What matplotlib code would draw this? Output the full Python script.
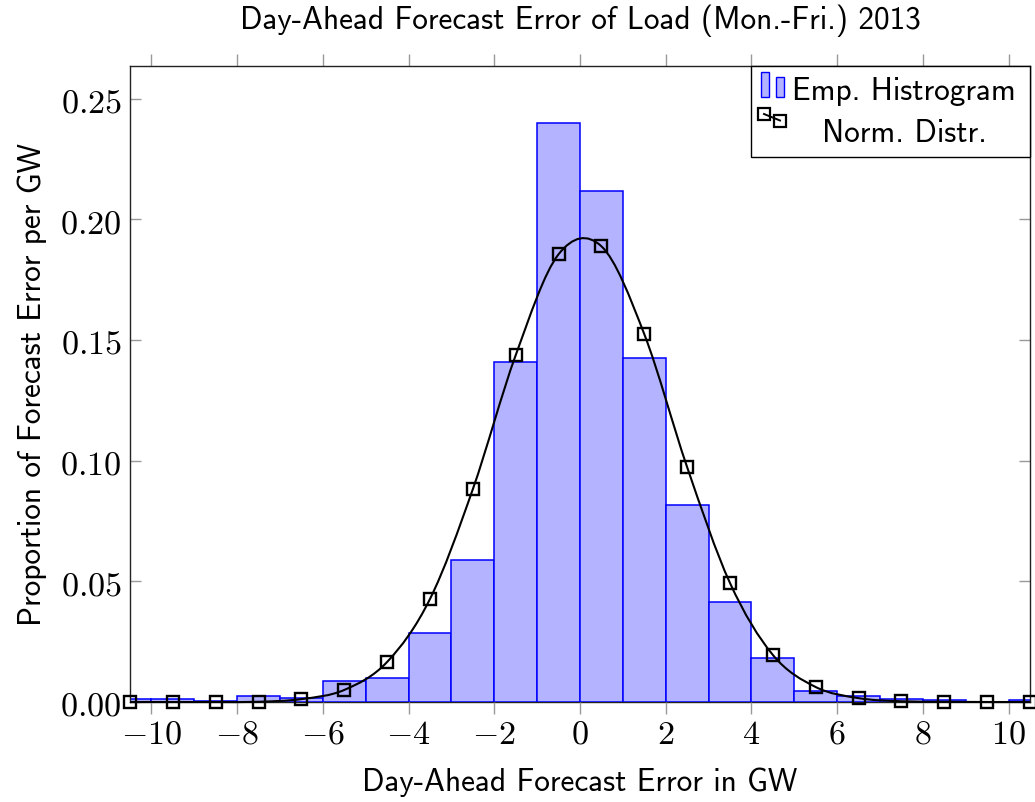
import matplotlib
matplotlib.use("Agg")
import matplotlib.pyplot as plt
from matplotlib.path import Path
from matplotlib.patches import PathPatch, Rectangle
from matplotlib.lines import Line2D
from matplotlib.ticker import FuncFormatter, FixedLocator

# ---------------- data ----------------
bin_left = [-11, -10, -9, -8, -7, -6, -5, -4, -3, -2, -1,
            0, 1, 2, 3, 4, 5, 6, 7, 8, 9, 10]
hist_values = [0.0011, 0.0011, 0.0005, 0.0023, 0.0018, 0.0087, 0.0099, 0.0286,
               0.0588, 0.1410, 0.2398, 0.2116, 0.1424, 0.0816, 0.0414, 0.0182,
               0.0047, 0.0025, 0.0014, 0.0007, 0.0002, 0.0010]
norm_x = [-10.5, -9.5, -8.5, -7.5, -6.5, -5.5, -4.5, -3.5, -2.5, -1.5, -0.5,
          0.5, 1.5, 2.5, 3.5, 4.5, 5.5, 6.5, 7.5, 8.5, 9.5, 10.5]
norm_y = [0.0000, 0.0000, 0.0000, 0.0001, 0.0012, 0.0050, 0.0166, 0.0427,
          0.0882, 0.1437, 0.1855, 0.1888, 0.1524, 0.0973, 0.0493, 0.0195,
          0.0062, 0.0016, 0.0003, 0.0001, 0.0000, 0.0000]
x_ticks = [-10, -8, -6, -4, -2, 0, 2, 4, 6, 8, 10]
y_ticks = [0.00, 0.05, 0.10, 0.15, 0.20, 0.25]

title = "Day-Ahead Forecast Error of Load (Mon.-Fri.) 2013"
xlabel = "Day-Ahead Forecast Error in GW"
ylabel = "Proportion of Forecast Error per GW"
legend_labels = ["Emp. Histrogram", "Norm. Distr."]

# ---------------- style ----------------
plt.rcParams["mathtext.fontset"] = "cm"
SANS = "cmss10"
BAR_FACE = "#b3b3ff"
BAR_EDGE = "#0000ff"
TICK_COL = "#999999"
TXT = 22.5
TICK_FS = 24.5

W, H = 1035, 803
fig = plt.figure(figsize=(W / 100, H / 100), dpi=100)
L, R, T, B = 130, 1030, 67, 703
ax = fig.add_axes([L / W, 1 - B / H, (R - L) / W, (B - T) / H])

# histogram bars
ax.bar(bin_left, hist_values, width=1.0, align="edge", color=BAR_FACE,
       edgecolor=BAR_EDGE, linewidth=1.1, zorder=2)

# smooth curve through the normal-distribution samples (Bezier, Catmull-Rom)
n = len(norm_x)
verts = [(norm_x[0], norm_y[0])]
codes = [Path.MOVETO]
for i in range(n - 1):
    i0 = max(i - 1, 0)
    i3 = min(i + 2, n - 1)
    d0x = (norm_x[i + 1] - norm_x[i0]) / (6 if i > 0 else 3)
    d0y = (norm_y[i + 1] - norm_y[i0]) / (6 if i > 0 else 3)
    d1x = (norm_x[i3] - norm_x[i]) / (6 if i + 1 < n - 1 else 3)
    d1y = (norm_y[i3] - norm_y[i]) / (6 if i + 1 < n - 1 else 3)
    verts += [(norm_x[i] + d0x, norm_y[i] + d0y),
              (norm_x[i + 1] - d1x, norm_y[i + 1] - d1y),
              (norm_x[i + 1], norm_y[i + 1])]
    codes += [Path.CURVE4] * 3
ax.add_patch(PathPatch(Path(verts, codes), fill=False, edgecolor="black",
                       linewidth=1.5, zorder=3, clip_on=False))
ax.plot(norm_x, norm_y, linestyle="none", marker="s", markersize=8.8,
        markerfacecolor="none", markeredgecolor="black", markeredgewidth=1.7,
        zorder=4, clip_on=False)

# axes limits / spines
ax.set_xlim(-10.5, 10.5)
ax.set_ylim(0, 0.2635)
for s in ["left", "right", "top", "bottom"]:
    ax.spines[s].set_color("#222222")
    ax.spines[s].set_linewidth(1.0)
ax.spines["bottom"].set_zorder(1)

ax.xaxis.set_major_locator(FixedLocator(x_ticks))
ax.yaxis.set_major_locator(FixedLocator(y_ticks))
ax.xaxis.set_major_formatter(FuncFormatter(lambda v, p: r"$%d$" % round(v)))
ax.yaxis.set_major_formatter(FuncFormatter(lambda v, p: r"$%.2f$" % v))
ax.tick_params(axis="x", which="both", direction="out", length=8.5, width=1.0,
               color=TICK_COL, top=True, bottom=True, labelsize=TICK_FS, pad=2)
ax.tick_params(axis="y", which="both", direction="in", length=8, width=1.0,
               color=TICK_COL, left=True, right=True, labelsize=TICK_FS, pad=6)
ax.minorticks_off()

ax.set_xlabel(xlabel, fontfamily=SANS, fontsize=TXT, labelpad=12)
ax.set_ylabel(ylabel, fontfamily=SANS, fontsize=TXT, labelpad=10)
fig.text(0.5 * (L + R) / W, 1 - 21 / H, title, fontfamily=SANS, fontsize=TXT,
         ha="center", va="center")

# ---------------- legend (drawn in axes fraction coords) ----------------
def fx(px):
    return (px - L) / (R - L)

def fy(py):
    return (B - py) / (B - T)

ax.add_patch(Rectangle((fx(751), fy(158)), fx(1030) - fx(751), fy(67) - fy(158),
                       transform=ax.transAxes, facecolor="white",
                       edgecolor="black", linewidth=1.0, zorder=10, clip_on=False))
ax.add_patch(Rectangle((fx(761), fy(98)), fx(769) - fx(761), fy(73) - fy(98),
                       transform=ax.transAxes, facecolor=BAR_FACE,
                       edgecolor=BAR_EDGE, linewidth=1.0, zorder=11))
ax.add_patch(Rectangle((fx(776), fy(98)), fx(784) - fx(776), fy(78) - fy(98),
                       transform=ax.transAxes, facecolor=BAR_FACE,
                       edgecolor=BAR_EDGE, linewidth=1.0, zorder=11))
ax.add_line(Line2D([fx(764), fx(780)], [fy(115), fy(121.5)],
                   transform=ax.transAxes, color="black", linewidth=1.4,
                   marker="s", markersize=8, markerfacecolor="none",
                   markeredgecolor="black", markeredgewidth=1.6, zorder=11))
ax.text(fx(792), fy(91), legend_labels[0], transform=ax.transAxes,
        fontfamily=SANS, fontsize=TXT, ha="left", va="center", zorder=12)
ax.text(fx(904), fy(133), legend_labels[1], transform=ax.transAxes,
        fontfamily=SANS, fontsize=TXT, ha="center", va="center", zorder=12)

fig.savefig("out.png", dpi=100)
